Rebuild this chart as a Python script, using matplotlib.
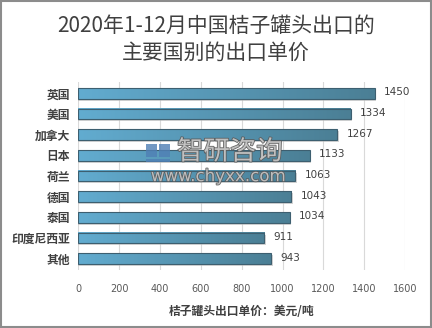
import numpy as np
import matplotlib.pyplot as plt
import matplotlib.patheffects as pe
from matplotlib.colors import LinearSegmentedColormap
from matplotlib.patches import Rectangle

plt.rcParams['font.family'] = ['Noto Sans CJK SC', 'DejaVu Sans']

countries = ['英国', '美国', '加拿大', '日本', '荷兰', '德国', '泰国', '印度尼西亚', '其他']
prices = [1450, 1334, 1267, 1133, 1063, 1043, 1034, 911, 943]

fig = plt.figure(figsize=(4.32, 3.28), dpi=100)
ax = fig.add_axes([0.181, 0.177, 0.757, 0.573])

cmap = LinearSegmentedColormap.from_list('bar', ['#62acd0', '#4b7f95'])
grad = np.linspace(0, 1, 256).reshape(1, -1)
h = 0.52
y = np.arange(len(countries))[::-1]
for yi, v in zip(y, prices):
    # soft shadow under each bar
    ax.add_patch(Rectangle((0, yi - h / 2 - 0.1), v + 8, h, color='#b8b8b8', alpha=0.6, zorder=2, lw=0))
    ax.imshow(grad, cmap=cmap, aspect='auto', extent=(0, v, yi - h / 2, yi + h / 2), zorder=3)
    ax.add_patch(Rectangle((0, yi - h / 2), v, h, fill=False, ec='#3d5f70', lw=0.8, zorder=4))
    ax.text(v + 45, yi + 0.05, str(v), va='center', ha='left', fontsize=7.5, color='#404040',
            family=['DejaVu Sans'])

ax.set_xlim(0, 1600)
ax.set_ylim(-0.55, len(countries) - 0.45)
ax.set_xticks(range(0, 1601, 200))
ax.set_yticks(y)
ax.set_yticklabels(countries, fontsize=8.5, fontweight='bold', color='#404040')
ax.tick_params(axis='x', labelsize=7, colors='#595959', length=0, pad=10)
ax.tick_params(axis='y', length=0, pad=6)
for t in ax.get_xticklabels():
    t.set_family(['DejaVu Sans'])
ax.grid(axis='x', color='#d9d9d9', lw=0.8, zorder=0)
ax.set_axisbelow(True)
for s in ax.spines.values():
    s.set_visible(False)

ax.set_xlabel('桔子罐头出口单价：美元/吨', fontsize=8.5, fontweight='bold', color='#404040', labelpad=8)

fig.text(0.5, 0.92, '2020年1-12月中国桔子罐头出口的', ha='center', va='center',
         fontsize=15, color='#404040')
fig.text(0.5, 0.838, '主要国别的出口单价', ha='center', va='center',
         fontsize=15, color='#404040')

# watermark: logo blocks + company name + site
logo = '#4f7fb5'
for x0, y0, w, hh in [(0.338, 0.52, 0.025, 0.042), (0.368, 0.52, 0.025, 0.042), (0.338, 0.505, 0.055, 0.01)]:
    fig.add_artist(Rectangle((x0, y0), w, hh, transform=fig.transFigure, color=logo, alpha=0.8, lw=0))
halo = [pe.withStroke(linewidth=1.2, foreground='#5a5a5a')]
fig.text(0.532, 0.537, '智研咨询', ha='center', va='center', fontsize=19, color='#c8c8c8',
         alpha=0.9, path_effects=halo)
fig.text(0.505, 0.463, 'www.chyxx.com', ha='center', va='center', fontsize=12, color='#c8c8c8',
         alpha=0.9, family=['DejaVu Sans'], path_effects=halo)

fig.add_artist(Rectangle((0.002, 0.003), 0.996, 0.994, transform=fig.transFigure,
                         fill=False, ec='#8c8c8c', lw=1.5))

fig.savefig('out.png', dpi=100)
